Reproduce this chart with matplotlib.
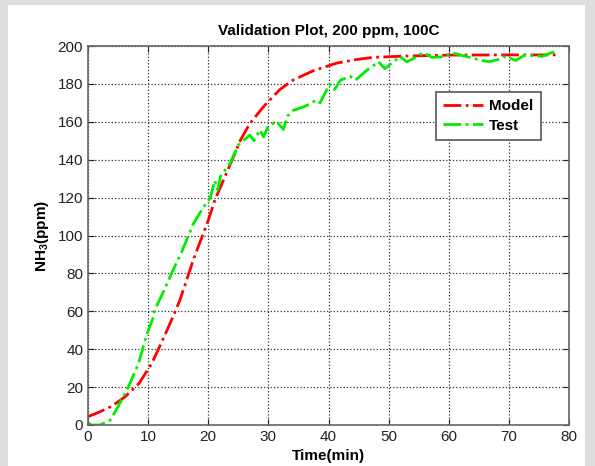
import matplotlib
matplotlib.use("Agg")
import matplotlib.pyplot as plt
from matplotlib.patches import Rectangle

# Model curve (red)
model_t = [0, 2, 4, 6.2, 8.5, 10.6, 12.3, 13.9, 15.3, 17.5, 20, 21.1, 22.5, 24.2, 25.3, 26.9,
           29.2, 31.9, 34.1, 37.5, 41.4, 44.5, 47.4, 53, 60, 70, 77.8]
model_y = [4.4, 7, 10, 15, 22, 32.5, 44, 55.4, 66, 87, 108, 118.7, 129, 141.6, 150, 159,
           168, 177, 182, 187, 191, 192.8, 194, 194.7, 195.2, 195.3, 195.3]

# Test curve (green)
test_t = [0, 0.6, 2, 3.7, 5, 6.7, 8.4, 9.8, 10.9, 11.1, 12.5, 13.9, 15.6, 17.5, 19.2, 20.3,
          21.1, 21.6, 22.0, 23.6, 25, 26.9, 27.6, 28.6, 29.2, 30.0, 31.4, 32.5, 33.2, 34.1,
          36.0, 38, 38.6, 40.2, 41.0, 42.0, 43.6, 44.5, 46.3, 47.2, 48.3, 49.4, 50.5, 51.9,
          53, 53.9, 55.8, 57.2, 59.2, 60.5, 62.2, 63.5, 65.2, 66.6, 68, 69.1, 70.3, 71.1,
          72.5, 74.2, 75.5, 76.7, 77.6]
test_y = [1, 0, 0, 2.6, 9.7, 20, 32.5, 48, 57, 60.7, 70, 80, 91.5, 106, 115, 119.6,
          129, 124, 131, 138, 147.8, 153, 150, 155.7, 152, 158, 160, 156, 163, 166,
          168, 171.5, 170, 180, 177, 182, 184, 182, 187, 189, 191.7, 188, 191, 194.4,
          191.7, 193, 196.5, 194, 194.3, 196.5, 195, 194, 192.6, 191.7, 192.6, 194.3, 193.5, 192.3,
          195, 195, 194.5, 196, 197]

x_ticks = [0, 10, 20, 30, 40, 50, 60, 70, 80]
y_ticks = [0, 20, 40, 60, 80, 100, 120, 140, 160, 180, 200]

plt.rcParams['font.family'] = ['Liberation Sans', 'DejaVu Sans']
plt.rcParams['mathtext.default'] = 'regular'

fig = plt.figure(figsize=(5.95, 4.66), dpi=100, facecolor='#dedede')
bg = Rectangle((8/595, 0), (585-8)/595, (466-5)/466,
               transform=fig.transFigure, facecolor='white',
               edgecolor='none', zorder=-10)
fig.patches.append(bg)
ax = fig.add_axes([88/595, (466-425)/466, (569-88)/595, (425-46)/466])
ax.set_zorder(1)

ax.plot(model_t, model_y, color='#ff0000', linestyle='-.', linewidth=2, label='Model')
ax.plot(test_t, test_y, color='#00ee00', linestyle='-.', linewidth=2, label='Test')

ax.set_xlim(0, 80)
ax.set_ylim(0, 200)
ax.set_xticks(x_ticks)
ax.set_yticks(y_ticks)
ax.tick_params(direction='in', length=4, labelsize=11, colors='#222222', width=0.8,
               top=True, right=True)
ax.grid(True, color='#333333', linestyle=':', linewidth=0.9)
for s in ax.spines.values():
    s.set_color('#666666')
    s.set_linewidth(1.2)

ax.set_title('Validation Plot, 200 ppm, 100C', fontsize=11, fontweight='bold', pad=8)
ax.set_xlabel('Time(min)', fontsize=11, fontweight='bold', labelpad=4)
ax.set_ylabel(r'NH$_{3}$(ppm)', fontsize=11, fontweight='bold', labelpad=5)

leg = ax.legend(loc='upper left', bbox_to_anchor=(0.723, 0.879), borderaxespad=0,
                fancybox=False, framealpha=1, edgecolor='#555555',
                prop={'weight': 'bold', 'size': 11},
                handlelength=2.6, borderpad=0.5, labelspacing=0.35, handletextpad=0.4)
leg.get_frame().set_linewidth(1.2)

fig.savefig('out.png', dpi=100, facecolor=fig.get_facecolor())
